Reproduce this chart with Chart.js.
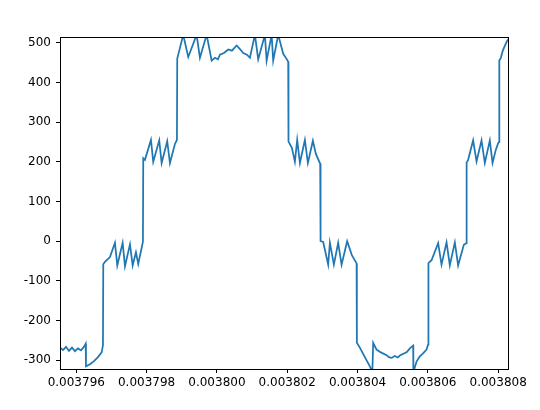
<!DOCTYPE html>
<html>
<head>
<meta charset="utf-8">
<script src="https://cdn.jsdelivr.net/npm/chart.js@4.4.1/dist/chart.umd.min.js"></script>
<style>
  html, body { margin: 0; padding: 0; background: #fff; }
  canvas { display: block; }
</style>
</head>
<body>
<canvas id="wave" width="540" height="410"></canvas>
<script>
// time (s)
const timeS = [
  0.003795537, 0.003795622, 0.003795707, 0.003795792, 0.003795878, 0.003795963,
  0.003796048, 0.003796134, 0.003796219, 0.003796267, 0.003796276, 0.003796390,
  0.003796503, 0.003796617, 0.003796722, 0.003796759, 0.003796768, 0.003796816,
  0.003796958, 0.003797100, 0.003797166, 0.003797319, 0.003797385, 0.003797527,
  0.003797604, 0.003797697, 0.003797763, 0.003797896, 0.003797905, 0.003797953,
  0.003798124, 0.003798189, 0.003798360, 0.003798428, 0.003798587, 0.003798664,
  0.003798806, 0.003798863, 0.003798872, 0.003799042, 0.003799185, 0.003799423,
  0.003799517, 0.003799708, 0.003799850, 0.003799944, 0.003800029, 0.003800086,
  0.003800200, 0.003800322, 0.003800427, 0.003800561, 0.003800655, 0.003800748,
  0.003800854, 0.003800939, 0.003801081, 0.003801175, 0.003801365, 0.003801414,
  0.003801556, 0.003801601, 0.003801744, 0.003801886, 0.003801991, 0.003802028,
  0.003802036, 0.003802133, 0.003802218, 0.003802284, 0.003802361, 0.003802503,
  0.003802588, 0.003802730, 0.003802815, 0.003802938, 0.003802949, 0.003803023,
  0.003803165, 0.003803214, 0.003803327, 0.003803449, 0.003803546, 0.003803705,
  0.003803839, 0.003803973, 0.003803981, 0.003804066, 0.003804209, 0.003804351,
  0.003804422, 0.003804445, 0.003804541, 0.003804664, 0.003804826, 0.003804891,
  0.003804968, 0.003805062, 0.003805147, 0.003805204, 0.003805318, 0.003805403,
  0.003805488, 0.003805582, 0.003805588, 0.003805679, 0.003805772, 0.003805858,
  0.003805963, 0.003806008, 0.003806017, 0.003806105, 0.003806293, 0.003806389,
  0.003806532, 0.003806625, 0.003806768, 0.003806861, 0.003807024, 0.003807095,
  0.003807103, 0.003807146, 0.003807288, 0.003807385, 0.003807527, 0.003807621,
  0.003807763, 0.003807840, 0.003807933, 0.003807999, 0.003808027, 0.003808033,
  0.003808076, 0.003808132, 0.003808189, 0.003808246, 0.003808303
];

// voltage, same order
const voltage = [
  -268, -274, -266, -276, -268, -277,
  -270, -275, -266, -258, -315, -310,
  -302, -292, -280, -262, -58, -52,
  -40, -4, -61, -4, -63, -8,
  -61, -28, -57, -1, 209, 205,
  255, 200, 254, 197, 252, 197,
  245, 255, 460, 520, 464, 520,
  462, 520, 455, 462, 458, 470,
  474, 483, 480, 493, 484, 474,
  470, 462, 520, 458, 520, 455,
  520, 455, 520, 472, 458, 452,
  251, 235, 200, 255, 197, 255,
  197, 253, 220, 195, 0, -2,
  -59, -4, -59, -4, -59, 0,
  -35, -56, -256, -268, -292, -315,
  -330, -256, -273, -280, -287, -292,
  -294, -289, -293, -288, -283, -279,
  -270, -263, -330, -303, -290, -283,
  -273, -260, -55, -48, -5, -59,
  -3, -61, -3, -61, -9, -5,
  198, 205, 254, 201, 254, 197,
  254, 197, 230, 247, 250, 455,
  462, 480, 492, 503, 510
];

const xTicks = [0.003796, 0.003798, 0.003800, 0.003802, 0.003804, 0.003806, 0.003808];
const yTicks = [-300, -200, -100, 0, 100, 200, 300, 400, 500];

const xMin = 0.003795537, xMax = 0.00380828;
const yMin = -321.9, yMax = 514.4;

// matplotlib-style box round the plot area
const frame = {
  id: 'frame',
  afterDraw(chart) {
    const a = chart.chartArea;
    const ctx = chart.ctx;
    ctx.save();
    ctx.strokeStyle = '#000';
    ctx.lineWidth = 1;
    ctx.strokeRect(Math.round(a.left) + 0.5, Math.round(a.top) + 0.5,
      Math.round(a.right - a.left), Math.round(a.bottom - a.top));
    ctx.restore();
  }
};

const points = timeS.map((t, i) => ({ x: t, y: voltage[i] }));

new Chart(document.getElementById('wave').getContext('2d'), {
  type: 'line',
  data: {
    datasets: [{
      data: points,
      borderColor: '#1f77b4',
      borderWidth: 1.75,
      pointRadius: 0,
      tension: 0,
      fill: false,
      clip: 0
    }]
  },
  options: {
    responsive: false,
    animation: false,
    layout: { padding: { top: 37, right: 32, left: 0, bottom: 0 } },
    plugins: { legend: { display: false }, tooltip: { enabled: false } },
    scales: {
      x: {
        type: 'linear',
        min: xMin,
        max: xMax,
        afterBuildTicks: s => { s.ticks = xTicks.map(v => ({ value: v })); },
        afterFit: s => { s.height = 41; },
        grid: { drawOnChartArea: false, drawTicks: true, tickLength: 4, color: '#000' },
        border: { display: true, color: '#000', width: 1 },
        ticks: {
          color: '#000',
          padding: 3,
          maxRotation: 0,
          autoSkip: false,
          font: { family: 'DejaVu Sans', size: 12 },
          callback: v => v.toFixed(6)
        }
      },
      y: {
        min: yMin,
        max: yMax,
        afterBuildTicks: s => { s.ticks = yTicks.map(v => ({ value: v })); },
        afterFit: s => { s.width = 60; },
        grid: { drawOnChartArea: false, drawTicks: true, tickLength: 4, color: '#000' },
        border: { display: true, color: '#000', width: 1 },
        ticks: {
          color: '#000',
          padding: 5,
          autoSkip: false,
          font: { family: 'DejaVu Sans', size: 12 },
          callback: v => String(v)
        }
      }
    }
  },
  plugins: [frame]
});
</script>
</body>
</html>
